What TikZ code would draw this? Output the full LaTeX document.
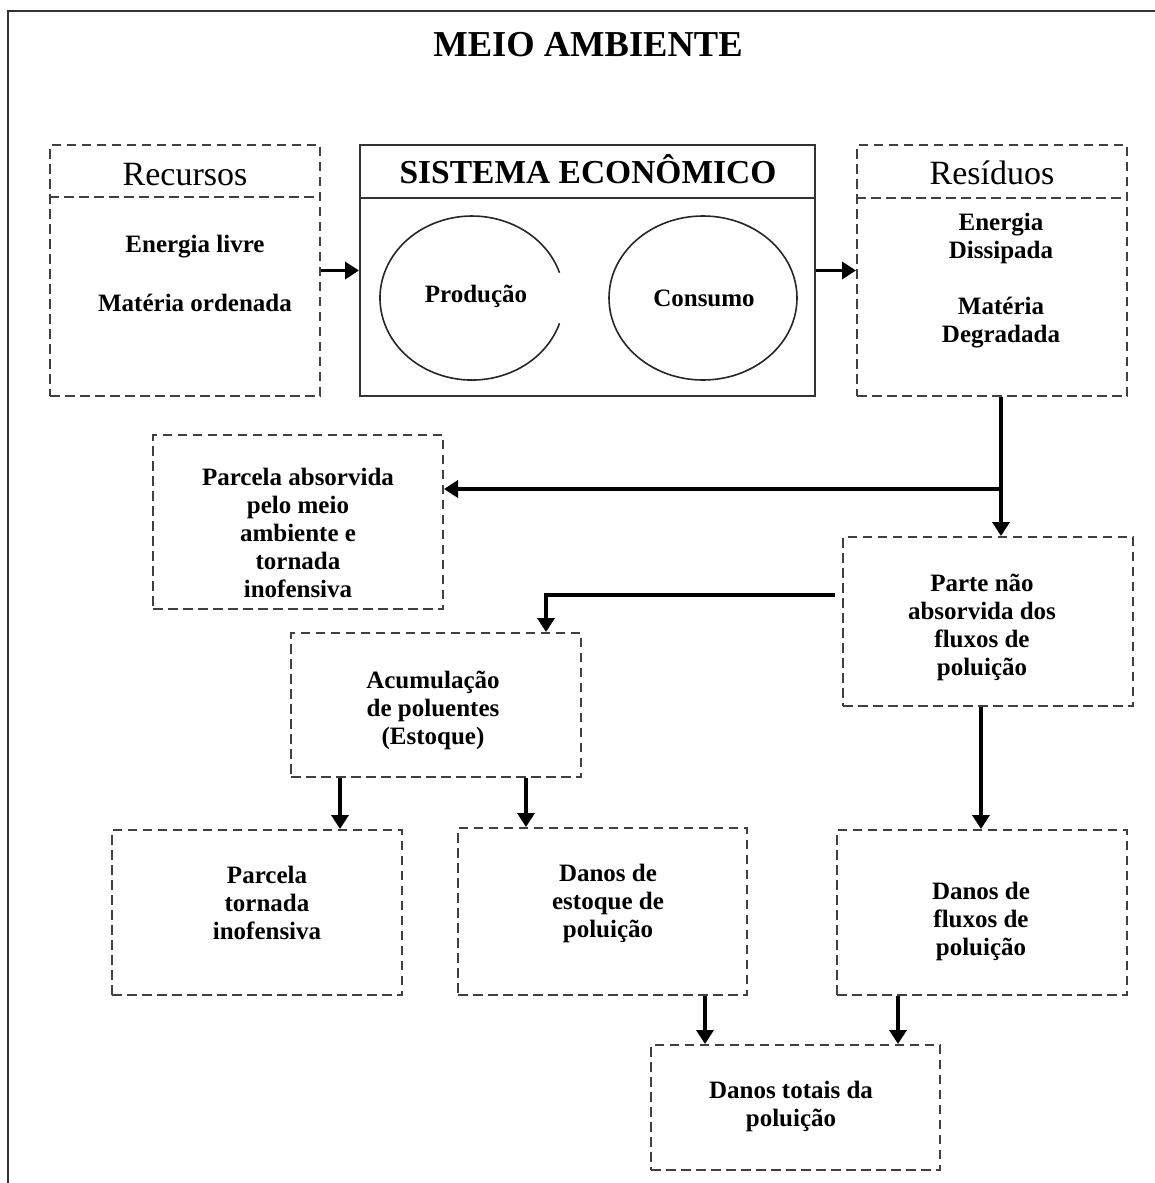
\documentclass[tikz,border=0pt]{standalone}
\usepackage{fontspec}
\setmainfont{Liberation Serif}
\usetikzlibrary{arrows.meta,shapes.geometric,calc}
\newcommand\bodyfont{\bfseries\fontsize{25}{28}\selectfont}

\begin{document}
\begin{tikzpicture}[x=1pt,y=-1pt,
  frame/.style={draw=black!80, line width=1.4pt},
  dline/.style={draw=black!75, line width=2pt, dash pattern=on 9.5pt off 5.5pt},
  dbox/.style={dline, rectangle, inner sep=0pt},
  sbox/.style={draw=black!80, line width=2pt, rectangle, inner sep=0pt},
  arr/.style={line width=3.6pt, -{Triangle[length=14pt,width=17pt]}},
  lbl/.style={align=center, font=\bodyfont, inner sep=0pt},
  head/.style={font=\fontsize{34}{38}\selectfont, inner sep=0pt},
]
\useasboundingbox (0,0) rectangle (1155,1183);

% outer frame of the environment
\draw[frame] (8,1183) -- (8,11) -- (1155,11);
\node[font=\bfseries\fontsize{36.5}{40}\selectfont, inner sep=0pt] (title) at (588,45) {MEIO AMBIENTE};

% resources
\node[dbox, minimum width=270pt, minimum height=251pt] (rec) at (185,270.5) {};
\draw[dline] ($(rec.north west)+(0,53)$) -- ($(rec.north east)+(0,53)$);
\node[head] (rech) at (185,175) {Recursos};
\node[lbl] (rec1) at (195,247) {Energia livre};
\node[lbl] (rec2) at (195,303) {Matéria ordenada};

% economic system
\node[sbox, minimum width=455pt, minimum height=251pt] (sys) at (587.5,270.5) {};
\draw[draw=black!80, line width=2pt] ($(sys.north west)+(0,54)$) -- ($(sys.north east)+(0,54)$);
\node[font=\bfseries\fontsize{33.5}{38}\selectfont, inner sep=0pt] (sysh) at (588,169) {SISTEMA ECONÔMICO};
\node[ellipse, minimum width=184pt, minimum height=164pt, inner sep=0pt] (prod) at (472,298) {};
\draw[draw=black!85, line width=1.6pt] ($(prod.center)+(87.5,-25.3)$)
  arc[start angle=18, end angle=342, x radius=92pt, y radius=82pt];
\node[lbl] (prodt) at (476,296) {Produção};
\node[ellipse, draw=black!85, line width=1.6pt, minimum width=188pt, minimum height=164pt, inner sep=0pt] (cons) at (703,298) {};
\node[lbl] (const) at (704,298) {Consumo};

% residues
\node[dbox, minimum width=270pt, minimum height=251pt] (res) at (992,270.5) {};
\draw[dline] ($(res.north west)+(0,54)$) -- ($(res.north east)+(0,54)$);
\node[head] (resh) at (992,173) {Resíduos};
\node[lbl] (res1) at (1001,238) {Energia\\Dissipada};
\node[lbl] (res2) at (1001,323) {Matéria\\Degradada};

% lower boxes
\node[dbox, minimum width=290pt, minimum height=174pt] (parcA) at (298,522) {};
\node[lbl] (parcAt) at (298,533) {Parcela absorvida\\pelo meio\\ambiente e\\tornada\\inofensiva};

\node[dbox, minimum width=290pt, minimum height=169pt] (parte) at (988,621.5) {};
\node[lbl] (partet) at (982,627) {Parte não\\absorvida dos\\fluxos de\\poluição};

\node[dbox, minimum width=290pt, minimum height=144pt] (acum) at (436,705) {};
\node[lbl] (acumt) at (433,710) {Acumulação\\de poluentes\\(Estoque)};

\node[dbox, minimum width=290pt, minimum height=165pt] (parcT) at (257,912.5) {};
\node[lbl] (parcTt) at (267,903) {Parcela\\tornada\\inofensiva};

\node[dbox, minimum width=289pt, minimum height=167pt] (danE) at (602.5,911.5) {};
\node[lbl] (danEt) at (608,903) {Danos de\\estoque de\\poluição};

\node[dbox, minimum width=290pt, minimum height=165pt] (danF) at (982,912.5) {};
\node[lbl] (danFt) at (981,921) {Danos de\\fluxos de\\poluição};

\node[dbox, minimum width=289pt, minimum height=125pt] (danT) at (795.5,1107.5) {};
\node[lbl] (danTt) at (791,1106) {Danos totais da\\poluição};

% flows
\draw[arr] (rec.east) -- (sys.west);
\draw[arr] (sys.east) -- (res.west);

\coordinate (j1) at (1001,489);
\draw[arr] (res.south -| j1) -- (parte.north -| j1);
\draw[arr] (j1) -- (parcA.east |- j1);

\coordinate (j2) at (546,595);
\draw[arr] ($(parte.west |- j2)+(-7,0)$) -- (j2) -- (acum.north -| j2);

\coordinate (j3) at (340,0);
\coordinate (j4) at (526,0);
\coordinate (j5) at (981,0);
\coordinate (j6) at (705,0);
\coordinate (j7) at (898,0);
\draw[arr] (acum.south -| j3) -- (parcT.north -| j3);
\draw[arr] (acum.south -| j4) -- (danE.north -| j4);
\draw[arr] (parte.south -| j5) -- (danF.north -| j5);
\draw[arr] (danE.south -| j6) -- (danT.north -| j6);
\draw[arr] (danF.south -| j7) -- (danT.north -| j7);
\end{tikzpicture}
\end{document}
